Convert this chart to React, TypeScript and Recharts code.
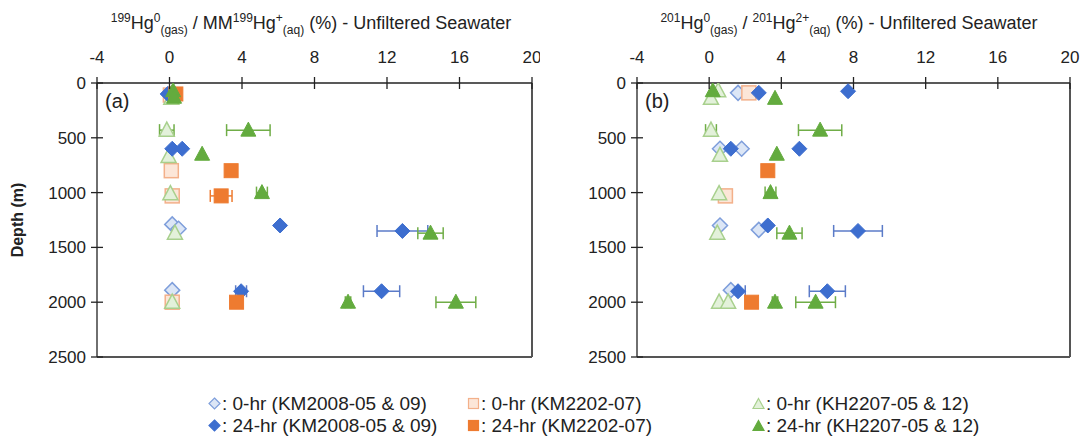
import React from 'react';
import { ScatterChart, Scatter, XAxis, YAxis, ErrorBar, ReferenceLine } from 'recharts';

const xTicks = [-4, 0, 4, 8, 12, 16, 20];
const depthTicks = [0, 500, 1000, 1500, 2000, 2500];

// Panel (a): 199Hg0(gas) / MM199Hg+(aq) (%)
const aOpenDiamond = [
  { x: 0.0, depth: 100 },
  { x: 0.15, depth: 1290 },
  { x: 0.5, depth: 1330 },
  { x: 0.15, depth: 1890 },
];
const aFilledDiamond = [
  { x: -0.1, depth: 100 },
  { x: 0.15, depth: 600 },
  { x: 0.7, depth: 600 },
  { x: 6.1, depth: 1300 },
  { x: 12.85, depth: 1350, err: 1.4 },
  { x: 3.95, depth: 1900, err: 0.3 },
  { x: 11.7, depth: 1900, err: 1.0 },
];
const aOpenSquare = [
  { x: 0.05, depth: 110 },
  { x: 0.1, depth: 800 },
  { x: 0.15, depth: 1030 },
  { x: 0.15, depth: 2000 },
];
const aFilledSquare = [
  { x: 0.35, depth: 100 },
  { x: 3.4, depth: 800 },
  { x: 2.85, depth: 1030, err: 0.6 },
  { x: 3.7, depth: 2000 },
];
const aOpenTriangle = [
  { x: 0.1, depth: 140 },
  { x: -0.15, depth: 430, err: 0.4 },
  { x: -0.05, depth: 670 },
  { x: 0.05, depth: 1010 },
  { x: 0.3, depth: 1370 },
  { x: 0.15, depth: 2000 },
];
const aFilledTriangle = [
  { x: 0.2, depth: 70 },
  { x: 0.25, depth: 130 },
  { x: 4.35, depth: 430, err: 1.2 },
  { x: 1.8, depth: 650 },
  { x: 5.1, depth: 1000, err: 0.3 },
  { x: 14.4, depth: 1370, err: 0.7 },
  { x: 9.85, depth: 2000, err: 0.15 },
  { x: 15.8, depth: 2000, err: 1.1 },
];

// Panel (b): 201Hg0(gas) / 201Hg2+(aq) (%)
const bOpenDiamond = [
  { x: 1.6, depth: 90 },
  { x: 0.6, depth: 600 },
  { x: 1.8, depth: 600 },
  { x: 0.6, depth: 1300 },
  { x: 2.75, depth: 1340 },
  { x: 1.2, depth: 1890 },
];
const bFilledDiamond = [
  { x: 2.75, depth: 90 },
  { x: 7.7, depth: 75 },
  { x: 1.2, depth: 600 },
  { x: 5.0, depth: 600 },
  { x: 3.25, depth: 1300 },
  { x: 8.25, depth: 1350, err: 1.35 },
  { x: 1.6, depth: 1900, err: 0.4 },
  { x: 6.55, depth: 1900, err: 1.0 },
];
const bOpenSquare = [
  { x: 2.2, depth: 90 },
  { x: 0.9, depth: 1030 },
];
const bFilledSquare = [
  { x: 3.25, depth: 800 },
  { x: 2.35, depth: 2000 },
];
const bOpenTriangle = [
  { x: 0.5, depth: 70 },
  { x: 0.1, depth: 140 },
  { x: 0.1, depth: 430, err: 0.3 },
  { x: 0.6, depth: 660 },
  { x: 0.55, depth: 1010 },
  { x: 0.45, depth: 1370 },
  { x: 0.55, depth: 2000 },
  { x: 1.05, depth: 2000 },
];
const bFilledTriangle = [
  { x: 0.2, depth: 70 },
  { x: 3.65, depth: 140 },
  { x: 6.15, depth: 430, err: 1.2 },
  { x: 3.75, depth: 650 },
  { x: 3.4, depth: 1000, err: 0.3 },
  { x: 4.45, depth: 1370, err: 0.7 },
  { x: 3.65, depth: 2000, err: 0.15 },
  { x: 5.9, depth: 2000, err: 1.1 },
];

const legendLabels = [
  ': 0-hr (KM2008-05 & 09)',
  ': 0-hr (KM2202-07)',
  ': 0-hr (KH2207-05 & 12)',
  ': 24-hr (KM2008-05 & 09)',
  ': 24-hr (KM2202-07)',
  ': 24-hr (KH2207-05 & 12)',
];

const FONT = "'Liberation Sans', Arial, Helvetica, sans-serif";

const C = {
  blue: '#3D6ECF',
  blueErr: '#5B7BC8',
  blueLightFill: '#DCE6F6',
  blueLightStroke: '#7E9EDB',
  orange: '#EE7B30',
  orangeLightFill: '#FCE6D8',
  orangeLightStroke: '#F3B08A',
  green: '#63AB3E',
  greenErr: '#70AD47',
  greenLightFill: '#E3F1DA',
  greenLightStroke: '#A8D08D',
};

type Style = { fill: string; stroke: string; sw: number };

const diamond = (s: Style, r = 7.5) => (p: any) => {
  const { cx, cy } = p;
  if (cx == null || cy == null) return <g />;
  return (
    <path
      d={`M${cx},${cy - r}L${cx + r},${cy}L${cx},${cy + r}L${cx - r},${cy}Z`}
      fill={s.fill}
      stroke={s.stroke}
      strokeWidth={s.sw}
    />
  );
};
const square = (s: Style, r = 7) => (p: any) => {
  const { cx, cy } = p;
  if (cx == null || cy == null) return <g />;
  return <rect x={cx - r} y={cy - r} width={2 * r} height={2 * r} fill={s.fill} stroke={s.stroke} strokeWidth={s.sw} />;
};
const triangle = (s: Style, w = 7.5) => (p: any) => {
  const { cx, cy } = p;
  if (cx == null || cy == null) return <g />;
  return (
    <path
      d={`M${cx},${cy - 8}L${cx + w},${cy + 6}L${cx - w},${cy + 6}Z`}
      fill={s.fill}
      stroke={s.stroke}
      strokeWidth={s.sw}
    />
  );
};

const openDiamondStyle = { fill: C.blueLightFill, stroke: C.blueLightStroke, sw: 1.5 };
const filledDiamondStyle = { fill: C.blue, stroke: C.blue, sw: 1 };
const openSquareStyle = { fill: C.orangeLightFill, stroke: C.orangeLightStroke, sw: 1.5 };
const filledSquareStyle = { fill: C.orange, stroke: C.orange, sw: 1 };
const openTriangleStyle = { fill: C.greenLightFill, stroke: C.greenLightStroke, sw: 1.5 };
const filledTriangleStyle = { fill: C.green, stroke: C.green, sw: 1 };

const XTick = (props: any) => {
  const { x, y, payload } = props;
  return (
    <g>
      <line x1={x} x2={x} y1={y - 6} y2={y + 6} stroke="#222" strokeWidth={1.3} />
      <text x={x} y={y - 20} textAnchor="middle" fontSize={17} fill="#222" fontFamily={FONT}>
        {payload.value}
      </text>
    </g>
  );
};
const YTick = (props: any) => {
  const { x, y, payload } = props;
  return (
    <g>
      <line x1={x - 6} x2={x + 6} y1={y} y2={y} stroke="#222" strokeWidth={1.3} />
      <text x={x - 11} y={y + 6} textAnchor="end" fontSize={17} fill="#222" fontFamily={FONT}>
        {payload.value}
      </text>
    </g>
  );
};

type PanelProps = {
  label: string;
  width: number;
  marginRight: number;
  od: any[];
  fd: any[];
  os: any[];
  fs: any[];
  ot: any[];
  ft: any[];
};

const Panel = ({ label, width, marginRight, od, fd, os, fs, ot, ft }: PanelProps) => (
  <ScatterChart width={width} height={439} margin={{ top: 53, right: marginRight, bottom: 82, left: 57 }}>
    <XAxis
      type="number"
      dataKey="x"
      orientation="top"
      domain={[-4, 20]}
      ticks={xTicks}
      height={30}
      tickSize={0}
      tickMargin={0}
      tickLine={false}
      tick={<XTick />}
      axisLine={{ stroke: '#222', strokeWidth: 1.3 }}
      allowDataOverflow
    />
    <YAxis
      type="number"
      dataKey="depth"
      reversed
      domain={[0, 2500]}
      ticks={depthTicks}
      width={40}
      tickSize={0}
      tickMargin={0}
      tickLine={false}
      tick={<YTick />}
      axisLine={{ stroke: '#222', strokeWidth: 1.3 }}
      allowDataOverflow
    />
    <ReferenceLine y={2500} stroke="#555" strokeWidth={2} />
    <ReferenceLine x={20} stroke="#555" strokeWidth={2} />
    <Scatter data={od} shape={diamond(openDiamondStyle)} isAnimationActive={false}>
      <ErrorBar dataKey="err" direction="x" width={6} stroke={C.blueErr} strokeWidth={1.5} />
    </Scatter>
    <Scatter data={os} shape={square(openSquareStyle)} isAnimationActive={false}>
      <ErrorBar dataKey="err" direction="x" width={6} stroke={C.orange} strokeWidth={1.5} />
    </Scatter>
    <Scatter data={ot} shape={triangle(openTriangleStyle)} isAnimationActive={false}>
      <ErrorBar dataKey="err" direction="x" width={6} stroke={C.greenErr} strokeWidth={1.5} />
    </Scatter>
    <Scatter data={fd} shape={diamond(filledDiamondStyle)} isAnimationActive={false}>
      <ErrorBar dataKey="err" direction="x" width={6} stroke={C.blueErr} strokeWidth={1.5} />
    </Scatter>
    <Scatter data={fs} shape={square(filledSquareStyle)} isAnimationActive={false}>
      <ErrorBar dataKey="err" direction="x" width={6} stroke={C.orange} strokeWidth={1.5} />
    </Scatter>
    <Scatter data={ft} shape={triangle(filledTriangleStyle)} isAnimationActive={false}>
      <ErrorBar dataKey="err" direction="x" width={6} stroke={C.greenErr} strokeWidth={1.5} />
    </Scatter>
    <text x={105} y={108} fontSize={20} fill="#222" fontFamily={FONT}>
      {label}
    </text>
  </ScatterChart>
);

const sup: React.CSSProperties = { fontSize: 12, verticalAlign: 'super', lineHeight: 0 };
const sub: React.CSSProperties = { fontSize: 12, verticalAlign: 'sub', lineHeight: 0 };

const LegendMarker = ({ i }: { i: number }) => {
  const styles = [openDiamondStyle, openSquareStyle, openTriangleStyle, filledDiamondStyle, filledSquareStyle, filledTriangleStyle];
  const s = styles[i];
  const kind = i % 3;
  return (
    <svg width={13} height={13} style={{ verticalAlign: 'middle', marginRight: 1, position: 'relative', top: -1 }}>
      {kind === 0 && <path d="M6.5,1L12,6.5L6.5,12L1,6.5Z" fill={s.fill} stroke={s.stroke} strokeWidth={1.2} />}
      {kind === 1 && <rect x={1.5} y={1.5} width={10} height={10} fill={s.fill} stroke={s.stroke} strokeWidth={1.2} />}
      {kind === 2 && <path d="M6.5,1.5L12,11.5L1,11.5Z" fill={s.fill} stroke={s.stroke} strokeWidth={1.2} />}
    </svg>
  );
};

const legendCols = [208, 467, 752];
const legendRows = [404, 426];

export default function App() {
  return (
    <div style={{ position: 'absolute', left: 0, top: 0, width: 1081, height: 439, background: '#fff', fontFamily: FONT, color: '#222' }}>
      <div style={{ position: 'absolute', left: 0, top: 0 }}>
        <Panel label="(a)" width={540} marginRight={8} od={aOpenDiamond} fd={aFilledDiamond} os={aOpenSquare} fs={aFilledSquare} ot={aOpenTriangle} ft={aFilledTriangle} />
      </div>
      <div style={{ position: 'absolute', left: 540, top: 0 }}>
        <Panel label="(b)" width={541} marginRight={11} od={bOpenDiamond} fd={bFilledDiamond} os={bOpenSquare} fs={bFilledSquare} ot={bOpenTriangle} ft={bFilledTriangle} />
      </div>
      <div style={{ position: 'absolute', left: 0, top: 13, width: 622, textAlign: 'center', fontSize: 18, lineHeight: '20px', whiteSpace: 'nowrap' }}>
        <span style={sup}>199</span>Hg<span style={sup}>0</span><span style={sub}>(gas)</span> / MM<span style={sup}>199</span>Hg<span style={sup}>+</span><span style={sub}>(aq)</span> (%) - Unfiltered Seawater
      </div>
      <div style={{ position: 'absolute', left: 540, top: 13, width: 618, textAlign: 'center', fontSize: 18, lineHeight: '20px', whiteSpace: 'nowrap' }}>
        <span style={sup}>201</span>Hg<span style={sup}>0</span><span style={sub}>(gas)</span> / <span style={sup}>201</span>Hg<span style={sup}>2+</span><span style={sub}>(aq)</span> (%) - Unfiltered Seawater
      </div>
      <div style={{ position: 'absolute', left: 18, top: 220, transform: 'translate(-50%, -50%) rotate(-90deg)', fontSize: 16, fontWeight: 'bold', whiteSpace: 'nowrap' }}>
        Depth (m)
      </div>
      {legendLabels.map((t, i) => (
        <div
          key={i}
          style={{
            position: 'absolute',
            left: legendCols[i % 3],
            top: legendRows[Math.floor(i / 3)] - 11,
            fontSize: 19,
            lineHeight: '22px',
            whiteSpace: 'nowrap',
          }}
        >
          <LegendMarker i={i} />
          {t}
        </div>
      ))}
    </div>
  );
}
